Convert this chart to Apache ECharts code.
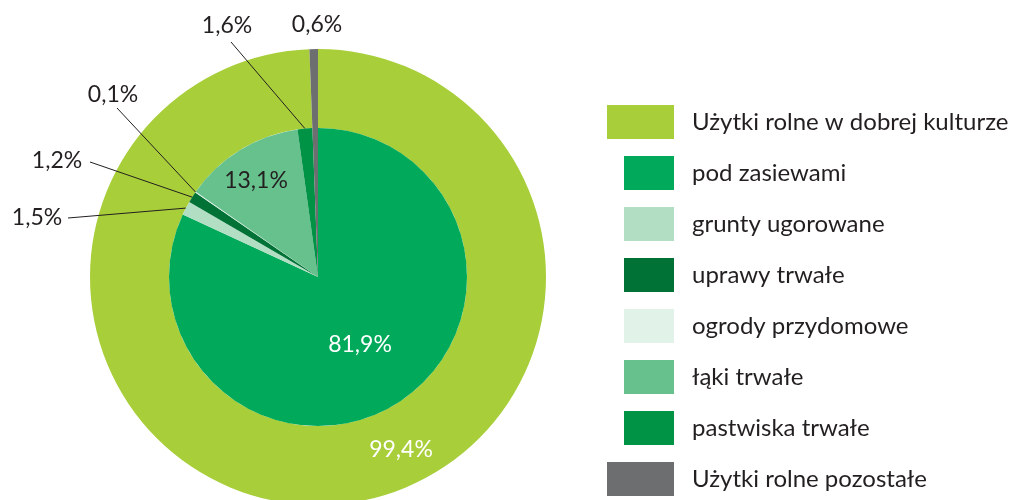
<!DOCTYPE html>
<html>
<head>
<meta charset="utf-8">
<script src="https://cdn.jsdelivr.net/npm/echarts@6/dist/echarts.min.js"></script>
<style>
  html, body { margin: 0; padding: 0; background: #fff; }
  #chart { width: 1016px; height: 500px; }
</style>
</head>
<body>
<div id="chart"></div>
<script>
// dane
var outerNames = ['Użytki rolne w dobrej kulturze', 'Użytki rolne pozostałe'];
var outerValues = [99.4, 0.6];
var innerNames = ['pod zasiewami', 'grunty ugorowane', 'uprawy trwałe', 'ogrody przydomowe', 'łąki trwałe', 'pastwiska trwałe', 'Użytki rolne pozostałe'];
var innerValues = [81.9, 1.5, 1.2, 0.1, 13.1, 1.6, 0.6];

var outerColors = ['#a8ce3a', '#6d6e70'];
var innerColors = ['#00aa5a', '#b2dfc4', '#007236', '#e1f3e8', '#66c18d', '#009245', '#6d6e70'];

// pozycje etykiet i końce linii odniesienia (px)
var outerLabelPos = [[401, 450], [317, 25]];
var innerLabelPos = [[360, 345], [37, 218], [57, 161], [113, 95], [256, 181], [227, 26], null];
var innerLineEnd = [null, [68, 218], [90, 162], [117, 108], null, [231, 42], null];
var innerInside = [true, false, false, false, true, false, false];

var FONT = 'Lato';
var TXT = '#231f20';

function pct(v) {
    return v.toFixed(1).replace('.', ',') + '%';
}

var chart = echarts.init(document.getElementById('chart'));

var outerData = outerNames.map(function (n, i) {
    return {
        name: n,
        value: outerValues[i],
        itemStyle: { color: outerColors[i] },
        label: { color: i === 0 ? '#fff' : TXT }
    };
});

var innerData = innerNames.map(function (n, i) {
    return {
        name: n,
        value: innerValues[i],
        itemStyle: { color: innerColors[i] },
        label: {
            show: innerLabelPos[i] != null,
            position: innerInside[i] ? 'inside' : 'outside',
            color: i === 0 ? '#fff' : TXT
        },
        labelLine: { show: innerLineEnd[i] != null }
    };
});

function legendStyle(left, top, w, names) {
    return {
        orient: 'vertical',
        left: left,
        top: top,
        padding: 0,
        itemWidth: w,
        itemHeight: 34,
        itemGap: 17,
        icon: 'rect',
        selectedMode: false,
        data: names,
        textStyle: {
            fontFamily: FONT,
            fontSize: 24,
            color: TXT,
            padding: [0, 0, 0, 13]
        }
    };
}

var option = {
    animation: false,
    legend: [
        legendStyle(607, 105, 67, [outerNames[0]]),
        legendStyle(624, 156, 50, innerNames.slice(0, 6)),
        legendStyle(607, 462, 67, [outerNames[1]])
    ],
    series: [
        {
            name: 'zewn',
            type: 'pie',
            z: 2,
            center: [318, 277],
            radius: [149, 228],
            startAngle: 90,
            clockwise: true,
            avoidLabelOverlap: false,
            silent: true,
            label: {
                show: true,
                position: 'inside',
                fontFamily: FONT,
                fontSize: 23,
                formatter: function (p) { return pct(p.value); }
            },
            labelLine: { show: false },
            labelLayout: function (p) {
                var pos = outerLabelPos[p.dataIndex];
                return { x: pos[0], y: pos[1], align: 'center', verticalAlign: 'middle' };
            },
            data: outerData
        },
        {
            name: 'wewn',
            type: 'pie',
            z: 4,
            center: [318, 277],
            radius: [0, 149],
            startAngle: 90,
            clockwise: true,
            avoidLabelOverlap: false,
            silent: true,
            label: {
                fontFamily: FONT,
                fontSize: 23,
                formatter: function (p) { return pct(p.value); }
            },
            labelLine: {
                length: 10,
                length2: 1,
                smooth: false,
                lineStyle: { color: TXT, width: 1 }
            },
            labelLayout: function (p) {
                var pos = innerLabelPos[p.dataIndex];
                if (!pos) return {};
                var out = { x: pos[0], y: pos[1], align: 'center', verticalAlign: 'middle' };
                var end = innerLineEnd[p.dataIndex];
                if (end && p.labelLinePoints) {
                    out.labelLinePoints = [p.labelLinePoints[0], end];
                }
                return out;
            },
            data: innerData
        }
    ]
};

chart.setOption(option);
</script>
</body>
</html>
